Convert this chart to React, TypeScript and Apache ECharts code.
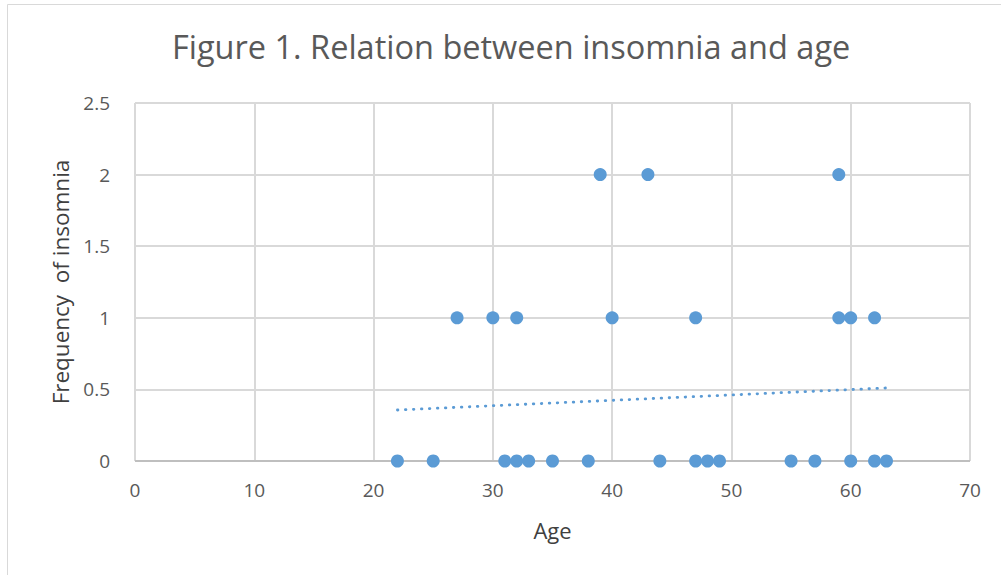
import React, { useEffect, useRef } from "react";
import * as echarts from "echarts";

const ages: number[] = [22, 25, 31, 32, 33, 35, 38, 44, 47, 48, 49, 55, 57, 60, 62, 63, 27, 30, 32, 40, 47, 59, 60, 62, 39, 43, 59];
const insomnia: number[] = [0, 0, 0, 0, 0, 0, 0, 0, 0, 0, 0, 0, 0, 0, 0, 0, 1, 1, 1, 1, 1, 1, 1, 1, 2, 2, 2];
const trendX: number[] = [22, 63];
const trendY: number[] = [0.356, 0.51];
const xTicks: number[] = [0, 10, 20, 30, 40, 50, 60, 70];
const yTicks: number[] = [0, 0.5, 1, 1.5, 2, 2.5];

const FONT = "'Open Sans', 'Noto Sans', sans-serif";
const BLUE = "#5b9bd5";

export default function App() {
  const ref = useRef<HTMLDivElement>(null);
  useEffect(() => {
    if (!ref.current) return;
    const chart = echarts.init(ref.current, undefined, { renderer: "svg" });
    chart.setOption({
      animation: false,
      backgroundColor: "#ffffff",
      title: {
        text: "Figure 1. Relation between insomnia and age",
        left: 167,
        top: 25,
        textStyle: { fontFamily: FONT, fontSize: 32.5, fontWeight: "normal", color: "#595959" },
      },
      graphic: [
        {
          type: "rect",
          shape: { x: 7.5, y: 4.5, width: 1010, height: 590 },
          style: { fill: "none", stroke: "#d9d9d9", lineWidth: 1 },
          silent: true,
        },
      ],
      grid: { left: 135, right: 31, top: 103, bottom: 114, containLabel: false },
      xAxis: {
        type: "value",
        min: xTicks[0],
        max: xTicks[xTicks.length - 1],
        interval: 10,
        name: "Age",
        nameLocation: "middle",
        nameGap: 58,
        nameTextStyle: { fontFamily: FONT, fontSize: 22, color: "#404040" },
        axisLine: { show: false },
        axisTick: { show: false },
        axisLabel: { fontFamily: FONT, fontSize: 19, color: "#595959", margin: 19 },
        splitLine: { show: true, lineStyle: { color: "#d9d9d9", width: 2 } },
      },
      yAxis: {
        type: "value",
        min: yTicks[0],
        max: yTicks[yTicks.length - 1],
        interval: 0.5,
        name: "Frequency  of insomnia",
        nameLocation: "middle",
        nameGap: 63,
        nameTextStyle: { fontFamily: FONT, fontSize: 22.5, color: "#404040" },
        axisLine: { show: false },
        axisTick: { show: false },
        axisLabel: { fontFamily: FONT, fontSize: 19, color: "#595959", margin: 25 },
        splitLine: { show: true, lineStyle: { color: "#d9d9d9", width: 2 } },
      },
      series: [
        {
          type: "line",
          data: trendX.map((x, i) => [x, trendY[i]]),
          showSymbol: false,
          symbol: "none",
          lineStyle: { color: BLUE, width: 2.8, type: [0.5, 7.5], cap: "round" },
          z: 1,
          silent: true,
        },
        {
          type: "line",
          data: [[0, 0], [70, 0]],
          showSymbol: false,
          symbol: "none",
          lineStyle: { color: "#bfbfbf", width: 2 },
          z: 1,
          silent: true,
        },
        {
          type: "scatter",
          data: ages.map((a, i) => [a, insomnia[i]]),
          symbolSize: 13,
          itemStyle: { color: BLUE, opacity: 1 },
          z: 3,
        },
      ],
    });
    return () => chart.dispose();
  }, []);
  return (
    <div
      ref={ref}
      style={{ position: "absolute", left: 0, top: 0, width: 1001, height: 575 }}
    />
  );
}
